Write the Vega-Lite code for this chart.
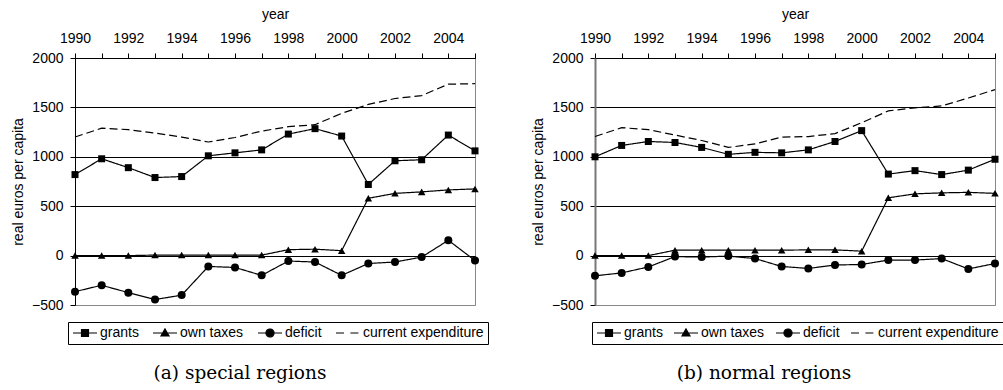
{
  "$schema": "https://vega.github.io/schema/vega-lite/v6.json",
  "background": "white",
  "padding": {"left": 10, "top": 6, "right": 0, "bottom": 0},
  "config": {
    "font": "Liberation Sans",
    "view": {"stroke": "#888888", "strokeWidth": 1},
    "axis": {
      "labelFont": "Liberation Sans", "labelFontSize": 14, "labelColor": "black",
      "titleFont": "Liberation Sans", "titleFontSize": 14, "titleFontWeight": "normal", "titleColor": "black",
      "domainColor": "black", "tickColor": "black", "gridColor": "black", "gridOpacity": 1, "gridWidth": 1
    },
    "legend": {
      "labelFont": "Liberation Sans", "labelFontSize": 14, "labelColor": "black",
      "strokeColor": "black", "fillColor": "white", "padding": 4, "labelOffset": 14, "columnPadding": 11,
      "symbolSize": 144
    },
    "title": {"font": "DejaVu Serif", "fontSize": 18.5, "fontWeight": "normal", "color": "black"}
  },
  "data": {"values": [
    {"panel": "a", "series": "grants", "year": 1990, "value": 820},
    {"panel": "a", "series": "grants", "year": 1991, "value": 980},
    {"panel": "a", "series": "grants", "year": 1992, "value": 890},
    {"panel": "a", "series": "grants", "year": 1993, "value": 790},
    {"panel": "a", "series": "grants", "year": 1994, "value": 800},
    {"panel": "a", "series": "grants", "year": 1995, "value": 1010},
    {"panel": "a", "series": "grants", "year": 1996, "value": 1040},
    {"panel": "a", "series": "grants", "year": 1997, "value": 1070},
    {"panel": "a", "series": "grants", "year": 1998, "value": 1230},
    {"panel": "a", "series": "grants", "year": 1999, "value": 1285},
    {"panel": "a", "series": "grants", "year": 2000, "value": 1210},
    {"panel": "a", "series": "grants", "year": 2001, "value": 720},
    {"panel": "a", "series": "grants", "year": 2002, "value": 960},
    {"panel": "a", "series": "grants", "year": 2003, "value": 970},
    {"panel": "a", "series": "grants", "year": 2004, "value": 1220},
    {"panel": "a", "series": "grants", "year": 2005, "value": 1060},
    {"panel": "a", "series": "own taxes", "year": 1990, "value": 0},
    {"panel": "a", "series": "own taxes", "year": 1991, "value": 0},
    {"panel": "a", "series": "own taxes", "year": 1992, "value": 0},
    {"panel": "a", "series": "own taxes", "year": 1993, "value": 5},
    {"panel": "a", "series": "own taxes", "year": 1994, "value": 5},
    {"panel": "a", "series": "own taxes", "year": 1995, "value": 5},
    {"panel": "a", "series": "own taxes", "year": 1996, "value": 5},
    {"panel": "a", "series": "own taxes", "year": 1997, "value": 5},
    {"panel": "a", "series": "own taxes", "year": 1998, "value": 60},
    {"panel": "a", "series": "own taxes", "year": 1999, "value": 65},
    {"panel": "a", "series": "own taxes", "year": 2000, "value": 50},
    {"panel": "a", "series": "own taxes", "year": 2001, "value": 580},
    {"panel": "a", "series": "own taxes", "year": 2002, "value": 630},
    {"panel": "a", "series": "own taxes", "year": 2003, "value": 645},
    {"panel": "a", "series": "own taxes", "year": 2004, "value": 665},
    {"panel": "a", "series": "own taxes", "year": 2005, "value": 675},
    {"panel": "a", "series": "deficit", "year": 1990, "value": -365},
    {"panel": "a", "series": "deficit", "year": 1991, "value": -300},
    {"panel": "a", "series": "deficit", "year": 1992, "value": -375},
    {"panel": "a", "series": "deficit", "year": 1993, "value": -445},
    {"panel": "a", "series": "deficit", "year": 1994, "value": -400},
    {"panel": "a", "series": "deficit", "year": 1995, "value": -110},
    {"panel": "a", "series": "deficit", "year": 1996, "value": -120},
    {"panel": "a", "series": "deficit", "year": 1997, "value": -200},
    {"panel": "a", "series": "deficit", "year": 1998, "value": -55},
    {"panel": "a", "series": "deficit", "year": 1999, "value": -65},
    {"panel": "a", "series": "deficit", "year": 2000, "value": -200},
    {"panel": "a", "series": "deficit", "year": 2001, "value": -80},
    {"panel": "a", "series": "deficit", "year": 2002, "value": -65},
    {"panel": "a", "series": "deficit", "year": 2003, "value": -15},
    {"panel": "a", "series": "deficit", "year": 2004, "value": 155},
    {"panel": "a", "series": "deficit", "year": 2005, "value": -50},
    {"panel": "a", "series": "current expenditure", "year": 1990, "value": 1200},
    {"panel": "a", "series": "current expenditure", "year": 1991, "value": 1290},
    {"panel": "a", "series": "current expenditure", "year": 1992, "value": 1275},
    {"panel": "a", "series": "current expenditure", "year": 1993, "value": 1240},
    {"panel": "a", "series": "current expenditure", "year": 1994, "value": 1200},
    {"panel": "a", "series": "current expenditure", "year": 1995, "value": 1150},
    {"panel": "a", "series": "current expenditure", "year": 1996, "value": 1195},
    {"panel": "a", "series": "current expenditure", "year": 1997, "value": 1260},
    {"panel": "a", "series": "current expenditure", "year": 1998, "value": 1305},
    {"panel": "a", "series": "current expenditure", "year": 1999, "value": 1325},
    {"panel": "a", "series": "current expenditure", "year": 2000, "value": 1440},
    {"panel": "a", "series": "current expenditure", "year": 2001, "value": 1530},
    {"panel": "a", "series": "current expenditure", "year": 2002, "value": 1590},
    {"panel": "a", "series": "current expenditure", "year": 2003, "value": 1620},
    {"panel": "a", "series": "current expenditure", "year": 2004, "value": 1735},
    {"panel": "a", "series": "current expenditure", "year": 2005, "value": 1740},
    {"panel": "b", "series": "grants", "year": 1990, "value": 1000},
    {"panel": "b", "series": "grants", "year": 1991, "value": 1115},
    {"panel": "b", "series": "grants", "year": 1992, "value": 1155},
    {"panel": "b", "series": "grants", "year": 1993, "value": 1145},
    {"panel": "b", "series": "grants", "year": 1994, "value": 1095},
    {"panel": "b", "series": "grants", "year": 1995, "value": 1025},
    {"panel": "b", "series": "grants", "year": 1996, "value": 1045},
    {"panel": "b", "series": "grants", "year": 1997, "value": 1040},
    {"panel": "b", "series": "grants", "year": 1998, "value": 1070},
    {"panel": "b", "series": "grants", "year": 1999, "value": 1155},
    {"panel": "b", "series": "grants", "year": 2000, "value": 1265},
    {"panel": "b", "series": "grants", "year": 2001, "value": 825},
    {"panel": "b", "series": "grants", "year": 2002, "value": 860},
    {"panel": "b", "series": "grants", "year": 2003, "value": 820},
    {"panel": "b", "series": "grants", "year": 2004, "value": 865},
    {"panel": "b", "series": "grants", "year": 2005, "value": 975},
    {"panel": "b", "series": "own taxes", "year": 1990, "value": 0},
    {"panel": "b", "series": "own taxes", "year": 1991, "value": 0},
    {"panel": "b", "series": "own taxes", "year": 1992, "value": 0},
    {"panel": "b", "series": "own taxes", "year": 1993, "value": 55},
    {"panel": "b", "series": "own taxes", "year": 1994, "value": 55},
    {"panel": "b", "series": "own taxes", "year": 1995, "value": 55},
    {"panel": "b", "series": "own taxes", "year": 1996, "value": 55},
    {"panel": "b", "series": "own taxes", "year": 1997, "value": 55},
    {"panel": "b", "series": "own taxes", "year": 1998, "value": 58},
    {"panel": "b", "series": "own taxes", "year": 1999, "value": 58},
    {"panel": "b", "series": "own taxes", "year": 2000, "value": 45},
    {"panel": "b", "series": "own taxes", "year": 2001, "value": 585},
    {"panel": "b", "series": "own taxes", "year": 2002, "value": 625},
    {"panel": "b", "series": "own taxes", "year": 2003, "value": 635},
    {"panel": "b", "series": "own taxes", "year": 2004, "value": 640},
    {"panel": "b", "series": "own taxes", "year": 2005, "value": 630},
    {"panel": "b", "series": "deficit", "year": 1990, "value": -205},
    {"panel": "b", "series": "deficit", "year": 1991, "value": -175},
    {"panel": "b", "series": "deficit", "year": 1992, "value": -115},
    {"panel": "b", "series": "deficit", "year": 1993, "value": -10},
    {"panel": "b", "series": "deficit", "year": 1994, "value": -15},
    {"panel": "b", "series": "deficit", "year": 1995, "value": -5},
    {"panel": "b", "series": "deficit", "year": 1996, "value": -30},
    {"panel": "b", "series": "deficit", "year": 1997, "value": -110},
    {"panel": "b", "series": "deficit", "year": 1998, "value": -130},
    {"panel": "b", "series": "deficit", "year": 1999, "value": -95},
    {"panel": "b", "series": "deficit", "year": 2000, "value": -90},
    {"panel": "b", "series": "deficit", "year": 2001, "value": -45},
    {"panel": "b", "series": "deficit", "year": 2002, "value": -45},
    {"panel": "b", "series": "deficit", "year": 2003, "value": -30},
    {"panel": "b", "series": "deficit", "year": 2004, "value": -135},
    {"panel": "b", "series": "deficit", "year": 2005, "value": -80},
    {"panel": "b", "series": "current expenditure", "year": 1990, "value": 1205},
    {"panel": "b", "series": "current expenditure", "year": 1991, "value": 1295},
    {"panel": "b", "series": "current expenditure", "year": 1992, "value": 1275},
    {"panel": "b", "series": "current expenditure", "year": 1993, "value": 1220},
    {"panel": "b", "series": "current expenditure", "year": 1994, "value": 1165},
    {"panel": "b", "series": "current expenditure", "year": 1995, "value": 1095},
    {"panel": "b", "series": "current expenditure", "year": 1996, "value": 1130},
    {"panel": "b", "series": "current expenditure", "year": 1997, "value": 1200},
    {"panel": "b", "series": "current expenditure", "year": 1998, "value": 1205},
    {"panel": "b", "series": "current expenditure", "year": 1999, "value": 1235},
    {"panel": "b", "series": "current expenditure", "year": 2000, "value": 1345},
    {"panel": "b", "series": "current expenditure", "year": 2001, "value": 1465},
    {"panel": "b", "series": "current expenditure", "year": 2002, "value": 1495},
    {"panel": "b", "series": "current expenditure", "year": 2003, "value": 1515},
    {"panel": "b", "series": "current expenditure", "year": 2004, "value": 1595},
    {"panel": "b", "series": "current expenditure", "year": 2005, "value": 1680}
  ]},
  "bounds": "flush",
  "spacing": 120,
  "resolve": {"scale": {"color": "independent", "shape": "independent", "strokeDash": "independent", "size": "independent"}, "legend": {"color": "independent"}},
  "hconcat": [
    {
      "width": 400, "height": 247,
      "transform": [{"filter": "datum.panel == 'a'"}],
      "title": {"text": "(a) special regions", "orient": "bottom", "frame": "group", "anchor": "middle", "dx": -35, "offset": 19},
      "encoding": {
        "x": {"field": "year", "type": "quantitative", "scale": {"domain": [1990, 2005], "nice": false, "zero": false},
          "axis": {"orient": "top", "title": "year", "values": [1990,1991,1992,1993,1994,1995,1996,1997,1998,1999,2000,2001,2002,2003,2004,2005], "format": "d", "labelExpr": "datum.value % 2 == 0 ? datum.label : ''", "labelFlush": false, "labelOverlap": false, "grid": false, "tickSize": 5, "labelPadding": 8, "titlePadding": 10}},
        "y": {"field": "value", "type": "quantitative", "scale": {"domain": [-500, 2000], "nice": false, "zero": false},
          "axis": {"title": "real euros per capita", "format": "d", "values": [-500, 0, 500, 1000, 1500, 2000], "grid": true, "gridColor": {"condition": {"test": "datum.value == -500", "value": "#888888"}, "value": "black"}, "tickSize": 5, "labelPadding": 7, "titlePadding": 6}}
      },
      "layer": [
        {
          "mark": {"type": "line", "strokeWidth": 1.2},
          "encoding": {
            "detail": {"field": "series", "type": "nominal"},
            "color": {"field": "series", "type": "nominal",
              "scale": {"domain": ["grants", "own taxes", "deficit", "current expenditure"], "range": ["black", "black", "black", "black"]},
              "legend": {"orient": "none", "legendX": -7, "legendY": 264, "direction": "horizontal", "title": null, "symbolSize": 144,
                "encode": {"symbols": {"update": {
                  "shape": {"signal": "datum.value === 'grants' ? 'M-1,0H3M0.42,-0.58H1.58V0.58H0.42Z' : datum.value === 'own taxes' ? 'M-1,0H3M1,-0.67L1.67,0.5H0.33Z' : datum.value === 'deficit' ? 'M-1,0H3M1.67,0A0.67,0.67,0,1,1,0.33,0A0.67,0.67,0,1,1,1.67,0Z' : 'M-1,0H0.6M1.4,0H3'"},
                  "size": {"value": 144},
                  "fill": {"value": "black"}, "stroke": {"value": "black"}, "strokeWidth": {"value": 1.2}, "strokeDash": {"value": [1, 0]}, "opacity": {"value": 1}, "fillOpacity": {"value": 1}, "strokeOpacity": {"value": 1}
                }}}}},
            "strokeDash": {"field": "series", "type": "nominal",
              "scale": {"domain": ["grants", "own taxes", "deficit", "current expenditure"], "range": [[1, 0], [1, 0], [1, 0], [8, 4]]}, "legend": null}
          }
        },
        {
          "transform": [{"filter": "datum.series != 'current expenditure'"}],
          "mark": {"type": "point", "filled": true, "opacity": 1, "color": "black"},
          "encoding": {
            "shape": {"field": "series", "type": "nominal", "scale": {"domain": ["grants", "own taxes", "deficit"], "range": ["square", "triangle-up", "circle"]}, "legend": null},
            "size": {"field": "series", "type": "nominal", "scale": {"domain": ["grants", "own taxes", "deficit"], "range": [49, 64, 64]}, "legend": null}
          }
        }
      ]
    },
    {
      "width": 400, "height": 247,
      "transform": [{"filter": "datum.panel == 'b'"}],
      "title": {"text": "(b) normal regions", "orient": "bottom", "frame": "group", "anchor": "middle", "dx": -31, "offset": 19},
      "encoding": {
        "x": {"field": "year", "type": "quantitative", "scale": {"domain": [1990, 2005], "nice": false, "zero": false},
          "axis": {"orient": "top", "title": "year", "values": [1990,1991,1992,1993,1994,1995,1996,1997,1998,1999,2000,2001,2002,2003,2004,2005], "format": "d", "labelExpr": "datum.value % 2 == 0 ? datum.label : ''", "labelFlush": false, "labelOverlap": false, "grid": false, "tickSize": 5, "labelPadding": 8, "titlePadding": 10}},
        "y": {"field": "value", "type": "quantitative", "scale": {"domain": [-500, 2000], "nice": false, "zero": false},
          "axis": {"title": "real euros per capita", "format": "d", "values": [-500, 0, 500, 1000, 1500, 2000], "grid": true, "gridColor": {"condition": {"test": "datum.value == -500", "value": "#888888"}, "value": "black"}, "domainColor": "#777777", "domainWidth": 2, "tickSize": 5, "labelPadding": 7, "titlePadding": 6}}
      },
      "layer": [
        {
          "mark": {"type": "line", "strokeWidth": 1.2},
          "encoding": {
            "detail": {"field": "series", "type": "nominal"},
            "color": {"field": "series", "type": "nominal",
              "scale": {"domain": ["grants", "own taxes", "deficit", "current expenditure"], "range": ["black", "black", "black", "black"]},
              "legend": {"orient": "none", "legendX": -3, "legendY": 264, "direction": "horizontal", "title": null, "symbolSize": 144, "columnPadding": 8,
                "encode": {"symbols": {"update": {
                  "shape": {"signal": "datum.value === 'grants' ? 'M-1,0H3M0.42,-0.58H1.58V0.58H0.42Z' : datum.value === 'own taxes' ? 'M-1,0H3M1,-0.67L1.67,0.5H0.33Z' : datum.value === 'deficit' ? 'M-1,0H3M1.67,0A0.67,0.67,0,1,1,0.33,0A0.67,0.67,0,1,1,1.67,0Z' : 'M-1,0H0.6M1.4,0H3'"},
                  "size": {"value": 144},
                  "fill": {"value": "black"}, "stroke": {"value": "black"}, "strokeWidth": {"value": 1.2}, "strokeDash": {"value": [1, 0]}, "opacity": {"value": 1}, "fillOpacity": {"value": 1}, "strokeOpacity": {"value": 1}
                }}}}},
            "strokeDash": {"field": "series", "type": "nominal",
              "scale": {"domain": ["grants", "own taxes", "deficit", "current expenditure"], "range": [[1, 0], [1, 0], [1, 0], [8, 4]]}, "legend": null}
          }
        },
        {
          "transform": [{"filter": "datum.series != 'current expenditure'"}],
          "mark": {"type": "point", "filled": true, "opacity": 1, "color": "black"},
          "encoding": {
            "shape": {"field": "series", "type": "nominal", "scale": {"domain": ["grants", "own taxes", "deficit"], "range": ["square", "triangle-up", "circle"]}, "legend": null},
            "size": {"field": "series", "type": "nominal", "scale": {"domain": ["grants", "own taxes", "deficit"], "range": [49, 64, 64]}, "legend": null}
          }
        }
      ]
    }
  ]
}
